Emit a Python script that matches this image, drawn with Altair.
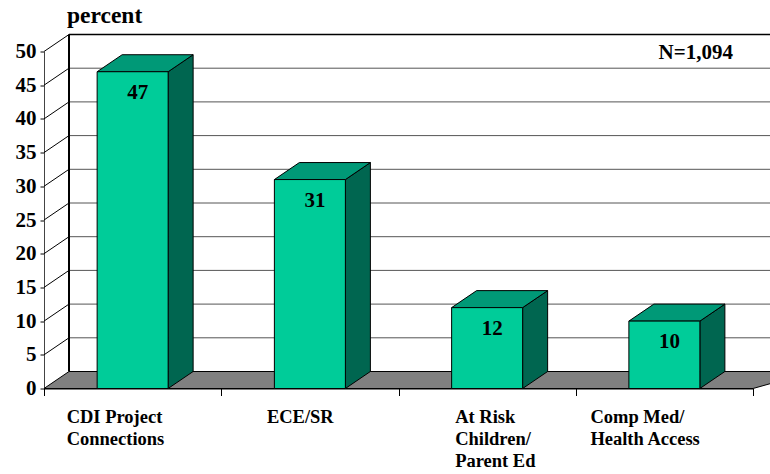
import altair as alt
import pandas as pd

# ---- data ----
categories = ["CDI Project\nConnections", "ECE/SR", "At Risk\nChildren/\nParent Ed", "Comp Med/\nHealth Access"]
percents = [47, 31, 12, 10]
y_ticks = [0, 5, 10, 15, 20, 25, 30, 35, 40, 45, 50]
axis_title = "percent"
sample_note = "N=1,094"

# ---- layout / style ----
W, H = 709, 337                     # front plane of the 3-D box
PAD = {"left": 44, "top": 51.5, "right": 17, "bottom": 85.5}
X_DOM = [-0.5, len(categories) - 0.5]
Y_DOM = [0, 50]
PX_X = W / (X_DOM[1] - X_DOM[0])    # pixels per category unit
PX_Y = H / (Y_DOM[1] - Y_DOM[0])    # pixels per percent
DX = 25 / PX_X                      # depth offset, category units
DY = 17 / PX_Y                      # depth offset, percent units
HALF = 35.5 / PX_X                  # half bar width
LABEL_SHIFT = [-66, -43, -32, -74]  # left edge of each category label, px from its centre
FONT = "'Liberation Serif', 'Times New Roman', Times, serif"
FRONT, TOP, SIDE = "#00CC99", "#009977", "#006650"

xs = alt.Scale(domain=X_DOM, nice=False, zero=False)
ys = alt.Scale(domain=Y_DOM, nice=False, zero=False)

# one axis definition shared by every layer so the merged axis keeps its settings
xa = alt.Axis(values=[-0.5, 0.5, 1.5, 2.5, 3.5], labels=False, title=None, grid=False,
              domainColor="black", domainWidth=1, tickColor="black", tickSize=7, tickWidth=1)
ya = alt.Axis(values=y_ticks, title=None, grid=False, domainColor="#444", domainWidth=1,
              tickColor="black", tickSize=4, tickWidth=1, labelPadding=4,
              labelFont=FONT, labelFontSize=21, labelFontWeight="bold", labelColor="black")

idx = list(range(len(categories)))
bars = pd.DataFrame({"i": idx, "v": percents, "cat": categories})
bars["xl"] = bars["i"] - HALF
bars["xr"] = bars["i"] + HALF

# side and top faces: two rows per bar (front edge, back edge)
side_rows, top_rows = [], []
for i, v in zip(idx, percents):
    xl, xr = i - HALF, i + HALF
    side_rows += [{"g": i, "x": xr, "y": v, "y2": 0},
                  {"g": i, "x": xr + DX, "y": v + DY, "y2": DY}]
    top_rows += [{"g": i, "y": v, "x": xl, "x2": xr},
                 {"g": i, "y": v + DY, "x": xl + DX, "x2": xr + DX}]
side = pd.DataFrame(side_rows)
top = pd.DataFrame(top_rows)

floor = pd.DataFrame({"g": [0, 0], "y": [0, DY],
                      "x": [X_DOM[0], X_DOM[0] + DX], "x2": [X_DOM[1], X_DOM[1] + DX + 0.2]})

grid = pd.DataFrame({"v": [t for t in y_ticks if 0 < t < 50]})
grid["y"] = grid["v"] + DY
grid["x"] = X_DOM[0] + DX
grid["x2"] = X_DOM[1] + DX + 0.2

diag = pd.DataFrame({"v": [t for t in y_ticks if t > 0]})
diag["x"] = X_DOM[0]
diag["x2"] = X_DOM[0] + DX
diag["y2"] = diag["v"] + DY

wall_top = pd.DataFrame({"y": [Y_DOM[1] + DY], "x": [X_DOM[0] + DX], "x2": [X_DOM[1] + DX + 0.2]})
wall_left = pd.DataFrame({"x": [X_DOM[0] + DX], "y": [DY], "y2": [Y_DOM[1] + DY]})

labels = pd.DataFrame({"cat": categories,
                       "lx": [i + s / PX_X for i, s in zip(idx, LABEL_SHIFT)]})

# ---- layers ----
grid_layer = alt.Chart(grid).mark_rule(color="#555", strokeWidth=1).encode(
    x=alt.X("x:Q", scale=xs, axis=xa), x2="x2:Q", y=alt.Y("y:Q", scale=ys, axis=ya))

wall_top_layer = alt.Chart(wall_top).mark_rule(color="black", strokeWidth=1.5).encode(
    x=alt.X("x:Q", scale=xs, axis=xa), x2="x2:Q", y=alt.Y("y:Q", scale=ys, axis=ya))

wall_left_layer = alt.Chart(wall_left).mark_rule(color="black", strokeWidth=2).encode(
    x=alt.X("x:Q", scale=xs, axis=xa), y=alt.Y("y:Q", scale=ys, axis=ya), y2="y2:Q")

diag_layer = alt.Chart(diag).mark_rule(color="black", strokeWidth=1).encode(
    x=alt.X("x:Q", scale=xs, axis=xa), x2="x2:Q",
    y=alt.Y("v:Q", scale=ys, axis=ya), y2="y2:Q")

floor_layer = alt.Chart(floor).mark_area(orient="horizontal", color="#808080",
                                         stroke="black", strokeWidth=1).encode(
    y=alt.Y("y:Q", scale=ys, axis=ya), x=alt.X("x:Q", scale=xs, axis=xa), x2="x2:Q",
    detail="g:N")

side_layer = alt.Chart(side).mark_area(orient="vertical", color=SIDE,
                                       stroke="black", strokeWidth=1).encode(
    x=alt.X("x:Q", scale=xs, axis=xa), y=alt.Y("y:Q", scale=ys, axis=ya), y2="y2:Q",
    detail="g:N")

top_layer = alt.Chart(top).mark_area(orient="horizontal", color=TOP,
                                     stroke="black", strokeWidth=1).encode(
    y=alt.Y("y:Q", scale=ys, axis=ya), x=alt.X("x:Q", scale=xs, axis=xa), x2="x2:Q",
    detail="g:N")

front_layer = alt.Chart(bars).mark_rect(color=FRONT, stroke="black", strokeWidth=1).encode(
    x=alt.X("xl:Q", scale=xs, axis=xa), x2="xr:Q",
    y=alt.Y("v:Q", scale=ys, axis=ya), y2=alt.datum(0))

value_layer = alt.Chart(bars).mark_text(font=FONT, fontSize=21, fontWeight="bold",
                                        color="black", baseline="alphabetic",
                                        dx=5, dy=27).encode(
    x=alt.X("i:Q", scale=xs, axis=xa), y=alt.Y("v:Q", scale=ys, axis=ya), text="v:Q")

cat_layer = alt.Chart(labels).mark_text(font=FONT, fontSize=18.5, fontWeight="bold",
                                        color="black", align="left", baseline="alphabetic",
                                        lineBreak="\n", lineHeight=22).encode(
    x=alt.X("lx:Q", scale=xs, axis=xa), y=alt.value(371.5), text="cat:N")

title_layer = alt.Chart(pd.DataFrame({"t": [axis_title]})).mark_text(
    font=FONT, fontSize=23.5, fontWeight="bold", color="black", align="left",
    baseline="alphabetic").encode(x=alt.value(23), y=alt.value(-29), text="t:N")

note_layer = alt.Chart(pd.DataFrame({"t": [sample_note]})).mark_text(
    font=FONT, fontSize=21, fontWeight="bold", color="black", align="right",
    baseline="alphabetic").encode(x=alt.value(689), y=alt.value(7.5), text="t:N")

chart = alt.layer(
    grid_layer, wall_top_layer, wall_left_layer, floor_layer, diag_layer,
    side_layer, top_layer, front_layer, value_layer, cat_layer, title_layer, note_layer,
).properties(
    width=W, height=H, padding=PAD,
    autosize=alt.AutoSizeParams(type="none"),
    background="white",
).configure_view(stroke=None)

chart.save("out.html", embed_options={"renderer": "svg", "actions": False})
